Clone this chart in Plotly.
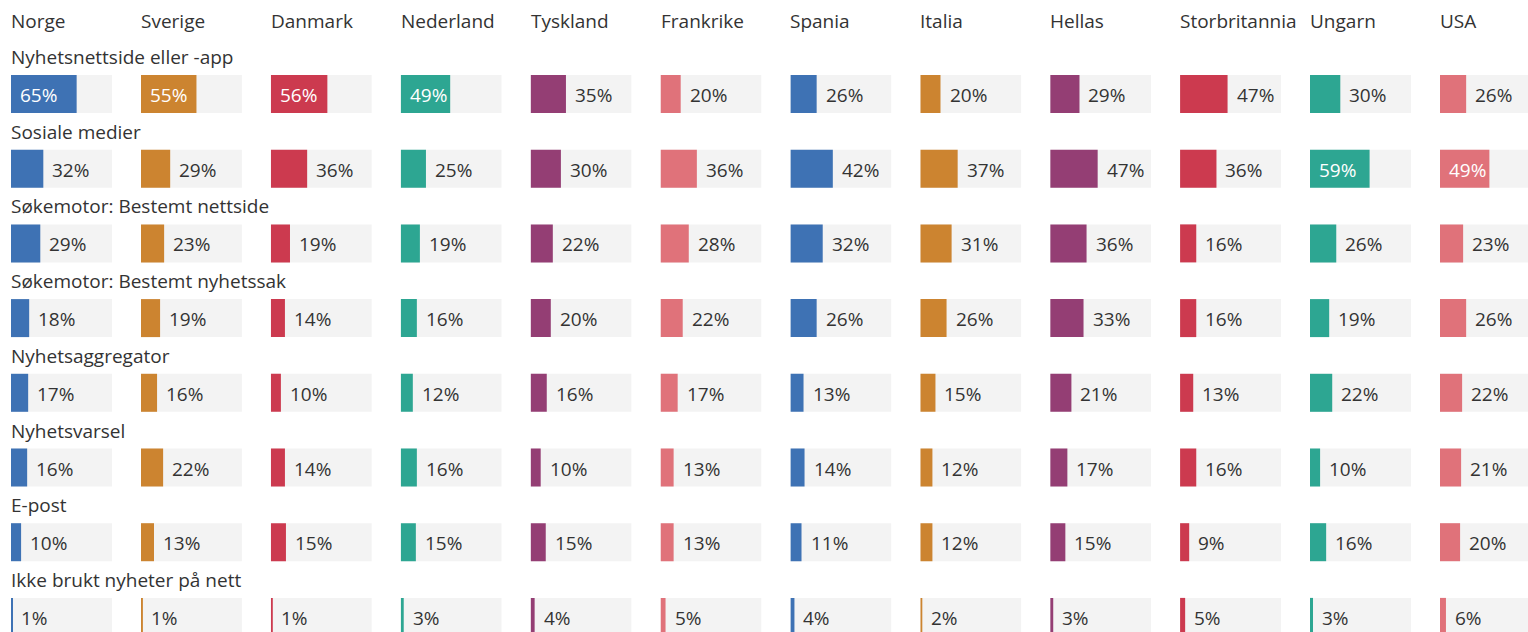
import plotly.graph_objects as go

countries = ["Norge", "Sverige", "Danmark", "Nederland", "Tyskland", "Frankrike",
             "Spania", "Italia", "Hellas", "Storbritannia", "Ungarn", "USA"]
categories = ["Nyhetsnettside eller -app", "Sosiale medier", "Søkemotor: Bestemt nettside",
              "Søkemotor: Bestemt nyhetssak", "Nyhetsaggregator", "Nyhetsvarsel",
              "E-post", "Ikke brukt nyheter på nett"]
colors = ["#3e72b4", "#cc8430", "#cc3a4f", "#2da692", "#943e74", "#e0727a",
          "#3e72b4", "#cc8430", "#943e74", "#cc3a4f", "#2da692", "#e0727a"]

# values[country] = list over categories
values = {
    "Norge":         [65, 32, 29, 18, 17, 16, 10, 1],
    "Sverige":       [55, 29, 23, 19, 16, 22, 13, 1],
    "Danmark":       [56, 36, 19, 14, 10, 14, 15, 1],
    "Nederland":     [49, 25, 19, 16, 12, 16, 15, 3],
    "Tyskland":      [35, 30, 22, 20, 16, 10, 15, 4],
    "Frankrike":     [20, 36, 28, 22, 17, 13, 13, 5],
    "Spania":        [26, 42, 32, 26, 13, 14, 11, 4],
    "Italia":        [20, 37, 31, 26, 15, 12, 12, 2],
    "Hellas":        [29, 47, 36, 33, 21, 17, 15, 3],
    "Storbritannia": [47, 36, 16, 16, 13, 16, 9, 5],
    "Ungarn":        [30, 59, 26, 19, 22, 10, 16, 3],
    "USA":           [26, 49, 23, 26, 22, 21, 20, 6],
}

W, H = 1528, 632
FONT = "Open Sans"
FS = 19
TXT = "#333333"
col_x0 = 11
col_pitch = 129.9
bar_px = 101
row_c0 = 94
row_pitch = 74.7
bar_h = 38

fig = go.Figure()
yrange = [(H - row_c0) / row_pitch, -row_c0 / row_pitch]
ys = list(range(len(categories)))
annotations = []

for i, c in enumerate(countries):
    ax = "" if i == 0 else str(i + 1)
    x0 = col_x0 + i * col_pitch
    x1 = min(x0 + bar_px, W)
    rng = [0, (x1 - x0) * 100 / bar_px]
    fig.add_trace(go.Bar(x=[100] * len(ys), y=ys, orientation="h",
                         marker=dict(color="#f3f3f3", line=dict(width=0)),
                         width=bar_h / row_pitch, xaxis="x" + ax, yaxis="y",
                         hoverinfo="skip", showlegend=False))
    fig.add_trace(go.Bar(x=values[c], y=ys, orientation="h",
                         marker=dict(color=colors[i], line=dict(width=0)),
                         width=bar_h / row_pitch, xaxis="x" + ax, yaxis="y",
                         showlegend=False, name=c))
    fig.layout["xaxis" + ax] = dict(domain=[x0 / W, x1 / W], range=rng,
                                    visible=False, fixedrange=True, anchor="y")
    for k, v in enumerate(values[c]):
        inside = v >= 48
        annotations.append(dict(
            x=0 if inside else v, y=k, xref="x" + ax, yref="y",
            text=f"{v}%", showarrow=False, xanchor="left", yanchor="middle",
            xshift=7 if inside else 7, yshift=-1,
            font=dict(family=FONT, size=FS, color="white" if inside else TXT)))
    annotations.append(dict(x=x0 / W, y=1 - 21 / H, xref="paper", yref="paper",
                            text=c, showarrow=False, xanchor="left", yanchor="middle",
                            xshift=-2, font=dict(family=FONT, size=FS, color=TXT)))

for k, cat in enumerate(categories):
    annotations.append(dict(x=col_x0 / W, y=k - 37 / row_pitch, xref="paper", yref="y",
                            text=cat, showarrow=False, xanchor="left", yanchor="middle",
                            xshift=-2, font=dict(family=FONT, size=FS, color=TXT)))

fig.update_layout(
    width=W, height=H, margin=dict(l=0, r=0, t=0, b=0),
    paper_bgcolor="white", plot_bgcolor="white", barmode="overlay",
    yaxis=dict(range=yrange, domain=[0, 1], visible=False, fixedrange=True),
    annotations=annotations, font=dict(family=FONT, color=TXT),
)
fig.write_html("out.html", config={"displayModeBar": False},
               post_script="document.body.style.margin='0';document.body.style.padding='0';document.body.style.overflow='hidden';")
